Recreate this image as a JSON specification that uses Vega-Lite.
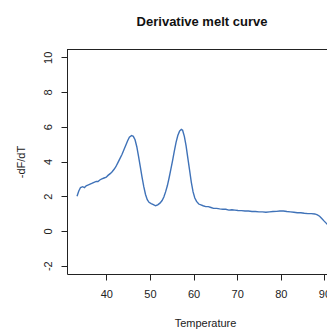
{
  "$schema": "https://vega.github.io/schema/vega-lite/v6.json",
  "width": 260,
  "height": 225,
  "autosize": {"type": "none"},
  "padding": {"left": 67, "top": 49, "right": 0, "bottom": 55},
  "background": "white",
  "config": {
    "view": {"stroke": null},
    "font": "Liberation Sans",
    "axis": {"grid": false, "domainColor": "#222", "tickColor": "#222", "labelColor": "#222", "titleColor": "#222", "labelFont": "Liberation Sans", "titleFont": "Liberation Sans", "titleFontWeight": "normal", "labelFontSize": 11, "titleFontSize": 11, "domainWidth": 1, "tickWidth": 1}
  },
  "title": {"text": "Derivative melt curve", "font": "Liberation Sans", "fontSize": 13, "fontWeight": "bold", "color": "#111", "anchor": "middle", "dx": 5, "offset": 20},
  "data": {"values": [
    {"t": 33.3, "v": 2.0}, {"t": 33.7, "v": 2.3}, {"t": 34.1, "v": 2.5}, {"t": 34.6, "v": 2.55}, {"t": 35.0, "v": 2.5},
    {"t": 35.4, "v": 2.6}, {"t": 35.9, "v": 2.65}, {"t": 36.3, "v": 2.7}, {"t": 36.8, "v": 2.75}, {"t": 37.2, "v": 2.8},
    {"t": 37.7, "v": 2.85}, {"t": 38.1, "v": 2.85}, {"t": 38.6, "v": 2.95}, {"t": 39.0, "v": 3.0}, {"t": 39.5, "v": 3.05},
    {"t": 40.0, "v": 3.1}, {"t": 40.4, "v": 3.2}, {"t": 40.9, "v": 3.3}, {"t": 41.3, "v": 3.4}, {"t": 41.8, "v": 3.55},
    {"t": 42.2, "v": 3.7}, {"t": 42.7, "v": 3.95}, {"t": 43.1, "v": 4.15}, {"t": 43.6, "v": 4.4}, {"t": 44.0, "v": 4.65},
    {"t": 44.5, "v": 4.95}, {"t": 44.9, "v": 5.2}, {"t": 45.3, "v": 5.4}, {"t": 45.8, "v": 5.5}, {"t": 46.2, "v": 5.45},
    {"t": 46.6, "v": 5.25}, {"t": 47.0, "v": 4.85}, {"t": 47.4, "v": 4.3}, {"t": 47.8, "v": 3.7}, {"t": 48.2, "v": 3.1},
    {"t": 48.6, "v": 2.55}, {"t": 49.0, "v": 2.1}, {"t": 49.4, "v": 1.8}, {"t": 49.8, "v": 1.65}, {"t": 50.3, "v": 1.58},
    {"t": 50.8, "v": 1.52}, {"t": 51.3, "v": 1.45}, {"t": 51.8, "v": 1.5}, {"t": 52.3, "v": 1.6}, {"t": 52.8, "v": 1.75},
    {"t": 53.2, "v": 1.95}, {"t": 53.6, "v": 2.25}, {"t": 54.0, "v": 2.6}, {"t": 54.4, "v": 3.05}, {"t": 54.8, "v": 3.55},
    {"t": 55.2, "v": 4.05}, {"t": 55.6, "v": 4.6}, {"t": 56.0, "v": 5.1}, {"t": 56.4, "v": 5.5}, {"t": 56.8, "v": 5.75},
    {"t": 57.2, "v": 5.85}, {"t": 57.5, "v": 5.8}, {"t": 57.9, "v": 5.45}, {"t": 58.3, "v": 4.9}, {"t": 58.7, "v": 4.2},
    {"t": 59.1, "v": 3.5}, {"t": 59.5, "v": 2.8}, {"t": 59.9, "v": 2.25}, {"t": 60.3, "v": 1.9}, {"t": 60.7, "v": 1.7},
    {"t": 61.2, "v": 1.55}, {"t": 61.7, "v": 1.5}, {"t": 62.2, "v": 1.45}, {"t": 62.8, "v": 1.4}, {"t": 63.4, "v": 1.4},
    {"t": 64.0, "v": 1.35}, {"t": 64.6, "v": 1.3}, {"t": 65.3, "v": 1.3}, {"t": 66.0, "v": 1.27}, {"t": 66.7, "v": 1.25},
    {"t": 67.4, "v": 1.25}, {"t": 68.1, "v": 1.2}, {"t": 68.8, "v": 1.22}, {"t": 69.5, "v": 1.2}, {"t": 70.2, "v": 1.18},
    {"t": 71.0, "v": 1.17}, {"t": 71.8, "v": 1.15}, {"t": 72.6, "v": 1.15}, {"t": 73.4, "v": 1.12}, {"t": 74.2, "v": 1.12},
    {"t": 75.0, "v": 1.1}, {"t": 75.8, "v": 1.1}, {"t": 76.6, "v": 1.08}, {"t": 77.4, "v": 1.1}, {"t": 78.2, "v": 1.12},
    {"t": 79.0, "v": 1.13}, {"t": 79.8, "v": 1.15}, {"t": 80.6, "v": 1.15}, {"t": 81.4, "v": 1.12}, {"t": 82.2, "v": 1.1},
    {"t": 83.0, "v": 1.08}, {"t": 83.8, "v": 1.05}, {"t": 84.6, "v": 1.05}, {"t": 85.4, "v": 1.02}, {"t": 86.2, "v": 1.0},
    {"t": 87.0, "v": 1.0}, {"t": 87.8, "v": 0.98}, {"t": 88.4, "v": 0.93}, {"t": 88.9, "v": 0.85}, {"t": 89.4, "v": 0.72},
    {"t": 89.9, "v": 0.58}, {"t": 90.4, "v": 0.45}, {"t": 90.8, "v": 0.35}
  ]},
  "layer": [
    {
      "mark": {"type": "line", "color": "#3f72b8", "strokeWidth": 1.4, "clip": true},
      "encoding": {
        "x": {"field": "t", "type": "quantitative", "scale": {"domain": [31.0, 90.6], "nice": false, "zero": false},
          "axis": {"title": "Temperature", "values": [40, 50, 60, 70, 80, 90], "tickCount": 20, "labelFlush": false, "labelOverlap": false, "tickSize": 6, "labelPadding": 8, "titlePadding": 18, "titleX": 138}},
        "y": {"field": "v", "type": "quantitative", "scale": {"domain": [-2.48, 10.48], "nice": false, "zero": false},
          "axis": {"title": "-dF/dT", "values": [-2, 0, 2, 4, 6, 8, 10], "tickCount": 20, "labelExpr": "toString(datum.value)", "labelAngle": 270, "labelAlign": "center", "labelBaseline": "bottom", "labelFlush": false, "labelOverlap": false, "labelBound": false, "tickSize": 6, "labelPadding": 8, "titlePadding": 16}}
      }
    },
    {
      "mark": {"type": "rule", "color": "#222", "strokeWidth": 1, "yOffset": 0.5},
      "encoding": {
        "x": {"datum": 31.0, "type": "quantitative"},
        "x2": {"datum": 90.6},
        "y": {"datum": 10.48, "type": "quantitative"}
      }
    }
  ]
}
